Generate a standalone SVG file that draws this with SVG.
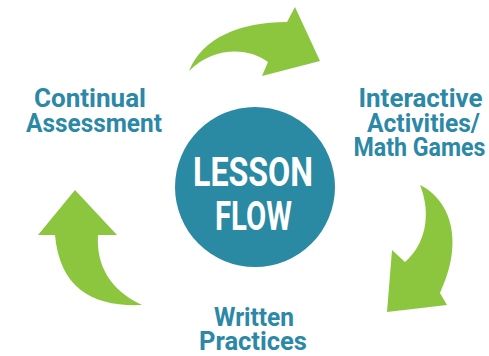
<svg xmlns="http://www.w3.org/2000/svg" width="489" height="356" viewBox="0 0 489 356">
<style>
.arrow{fill:#8cc63f;stroke:none}
.lbl{font-family:Roboto,"DejaVu Sans",sans-serif;font-weight:bold;font-size:26px;fill:#2b88a6;text-anchor:middle}
.ctr{font-family:Roboto,"DejaVu Sans",sans-serif;font-weight:bold;font-size:40px;fill:#ffffff;text-anchor:middle}
</style>
<rect width="489" height="356" fill="#ffffff"/>
<g id="connectors">
<path class="arrow" d="M189,71 C202,38 240,22 287,22 L295,7 L320,61 L262,76 L268,62 C250,48 215,45 189,71 Z"/>
<path class="arrow" d="M420,185 C450,200 465,240 440,293 L447,305 L387,312 L392,250 L405,262 C425,245 432,215 420,185 Z"/>
<path class="arrow" d="M75,190 L117,235 L98,235 C96,265 110,290 142,305 C95,307 60,290 55,235 L38,235 Z"/>
</g>
<g id="center">
<circle cx="255" cy="187" r="80" fill="#2a89a3"/>
<text class="ctr" x="253" y="186" textLength="120" lengthAdjust="spacingAndGlyphs">LESSON</text>
<text class="ctr" x="253.5" y="230" textLength="77" lengthAdjust="spacingAndGlyphs">FLOW</text>
</g>
<g id="continual">
<text class="lbl" x="90" y="107" textLength="112" lengthAdjust="spacingAndGlyphs">Continual</text>
<text class="lbl" x="94" y="132" textLength="136" lengthAdjust="spacingAndGlyphs">Assessment</text>
</g>
<g id="interactive">
<text class="lbl" x="420.5" y="107" textLength="124" lengthAdjust="spacingAndGlyphs">Interactive</text>
<text class="lbl" x="423.5" y="132" textLength="113" lengthAdjust="spacingAndGlyphs">Activities/</text>
<text class="lbl" x="419.5" y="156" textLength="132" lengthAdjust="spacingAndGlyphs">Math Games</text>
</g>
<g id="written">
<text class="lbl" x="254" y="326" textLength="80" lengthAdjust="spacingAndGlyphs">Written</text>
<text class="lbl" x="253" y="350" textLength="108" lengthAdjust="spacingAndGlyphs">Practices</text>
</g>
</svg>
